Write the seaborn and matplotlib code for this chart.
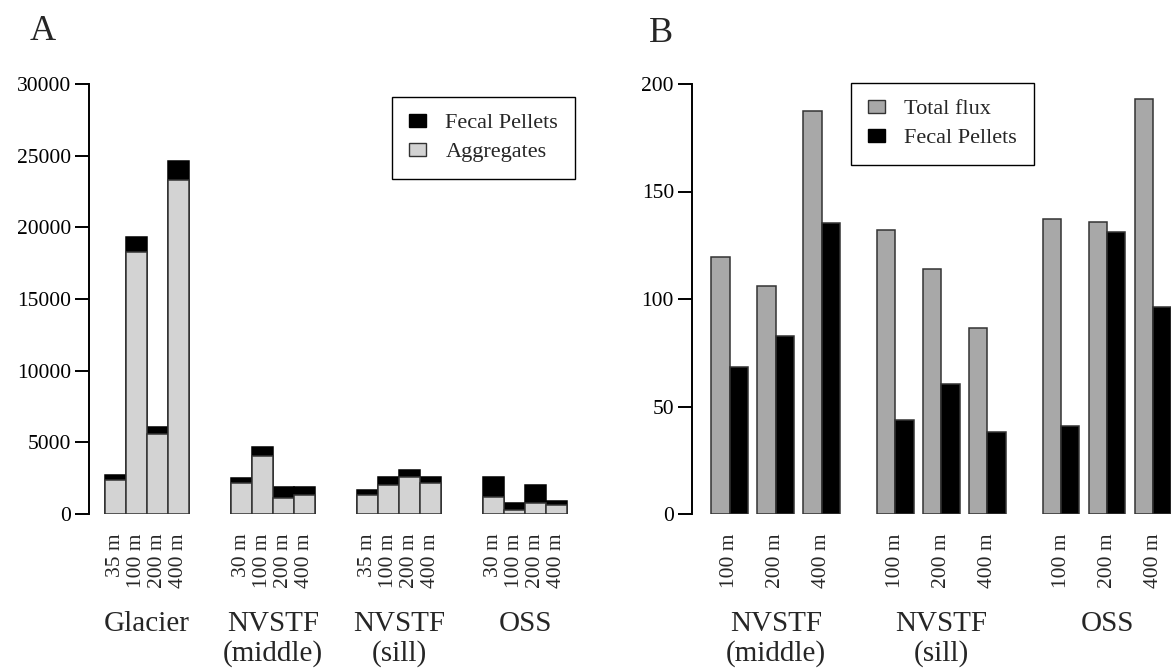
import numpy as np
import pandas as pd
import matplotlib
matplotlib.use("Agg")
import matplotlib.pyplot as plt
from matplotlib.patches import Patch
from matplotlib.transforms import blended_transform_factory
import seaborn as sns

# ---- Panel A: particle flux by site and depth (stacked) ----
sites_a = ["Glacier", "NVSTF\n(middle)", "NVSTF\n(sill)", "OSS"]
depths_a = [
    ["35 m", "100 m", "200 m", "400 m"],
    ["30 m", "100 m", "200 m", "400 m"],
    ["35 m", "100 m", "200 m", "400 m"],
    ["30 m", "100 m", "200 m", "400 m"],
]
aggregates = [2400, 18300, 5600, 23300,
              2150, 4050, 1100, 1300,
              1350, 2050, 2600, 2150,
              1200, 300, 800, 650]
fecal_pellets_a = [350, 1000, 500, 1300,
                   350, 650, 800, 600,
                   350, 550, 500, 450,
                   1400, 500, 1200, 250]

# ---- Panel B: total flux vs fecal pellet flux ----
sites_b = ["NVSTF\n(middle)", "NVSTF\n(sill)", "OSS"]
depths_b = ["100 m", "200 m", "400 m"]
total_flux = [119.5, 106, 187.5,
              132, 114, 86.5,
              137, 136, 193]
fecal_pellets_b = [68.5, 83, 135.5,
                   43.5, 60.5, 38,
                   41, 131, 96.5]

C_AGG = "#d3d3d3"
C_TOTAL = "#a8a8a8"
C_FP = "#000000"
C_EDGE = "#333333"

sns.set_theme(style="ticks")
plt.rcParams["font.family"] = ["Liberation Serif", "DejaVu Serif"]
plt.rcParams["axes.linewidth"] = 1.4
plt.rcParams["axes.edgecolor"] = "black"

W, H = 1171, 672
fig = plt.figure(figsize=(W / 100, H / 100), dpi=100)

def px_rect(left, right, top, bottom):
    return [left / W, 1 - bottom / H, (right - left) / W, (bottom - top) / H]

legend_kw = dict(loc="upper left", bbox_transform=fig.transFigure, fontsize=16,
                 frameon=True, fancybox=False, edgecolor="black", framealpha=1,
                 handlelength=0.8, handleheight=0.55, handletextpad=0.85,
                 borderpad=0.75, labelspacing=0.42, borderaxespad=0)

# ---------------- Panel A ----------------
x_a = [g * 6 + i for g in range(len(sites_a)) for i in range(4)]
totals_a = [a + f for a, f in zip(aggregates, fecal_pellets_a)]
df_a = pd.DataFrame({"pos": x_a, "total": totals_a, "agg": aggregates})

xl_a = (-1.262, 22.0)
ax_a = fig.add_axes(px_rect(89, 89 + (xl_a[1] - xl_a[0]) * 21, 84, 514))
sns.barplot(data=df_a, x="pos", y="total", native_scale=True, width=1.0,
            color=C_FP, edgecolor="black", linewidth=1.1, saturation=1,
            errorbar=None, ax=ax_a)
sns.barplot(data=df_a, x="pos", y="agg", native_scale=True, width=1.0,
            color=C_AGG, edgecolor=C_EDGE, linewidth=1.1, saturation=1,
            errorbar=None, ax=ax_a)
ax_a.set_xlim(*xl_a)
ax_a.set_ylim(0, 30000)
ax_a.set_yticks(np.arange(0, 30001, 5000))
ax_a.set_xticks(x_a)
ax_a.set_xticklabels([d for grp in depths_a for d in grp], rotation=90)
ax_a.set_xlabel("")
ax_a.set_ylabel("")

tr_a = blended_transform_factory(ax_a.transData, ax_a.transAxes)
for g, name in enumerate(sites_a):
    ax_a.text(g * 6 + 1.5, -0.225, name, transform=tr_a, ha="center", va="top",
              fontsize=21, linespacing=1.17)

leg_a = ax_a.legend(handles=[Patch(facecolor=C_FP, edgecolor="black", label="Fecal Pellets"),
                             Patch(facecolor=C_AGG, edgecolor=C_EDGE, label="Aggregates")],
                    bbox_to_anchor=(392 / W, 1 - 97 / H), **legend_kw)
leg_a.get_frame().set_linewidth(1.0)

# ---------------- Panel B ----------------
x_b = [g * 3.6 + i for g in range(len(sites_b)) for i in range(3)]
df_b = pd.DataFrame({
    "pos": x_b * 2,
    "value": total_flux + fecal_pellets_b,
    "series": ["Total flux"] * len(x_b) + ["Fecal Pellets"] * len(x_b),
})
xl_b = (-0.82, 9.59)
ax_b = fig.add_axes(px_rect(692, 1171, 84, 514))
sns.barplot(data=df_b, x="pos", y="value", hue="series", native_scale=True,
            width=0.8, dodge=True, palette=[C_TOTAL, C_FP], saturation=1,
            edgecolor=C_EDGE, linewidth=1.1, errorbar=None, legend=False, ax=ax_b)
ax_b.set_xlim(*xl_b)
ax_b.set_ylim(0, 200)
ax_b.set_yticks([0, 50, 100, 150, 200])
ax_b.set_xticks(x_b)
ax_b.set_xticklabels(depths_b * len(sites_b), rotation=90)
ax_b.set_xlabel("")
ax_b.set_ylabel("")

tr_b = blended_transform_factory(ax_b.transData, ax_b.transAxes)
for g, name in enumerate(sites_b):
    ax_b.text(g * 3.6 + 1, -0.225, name, transform=tr_b, ha="center", va="top",
              fontsize=21, linespacing=1.17)

leg_b = ax_b.legend(handles=[Patch(facecolor=C_TOTAL, edgecolor=C_EDGE, label="Total flux"),
                             Patch(facecolor=C_FP, edgecolor="black", label="Fecal Pellets")],
                    bbox_to_anchor=(851 / W, 1 - 83 / H), **legend_kw)
leg_b.get_frame().set_linewidth(1.0)

for ax in (ax_a, ax_b):
    sns.despine(ax=ax, top=True, right=True, bottom=True)
    ax.tick_params(axis="y", length=10, width=1.4, pad=3, labelsize=15.5,
                   direction="out", colors="black")
    ax.tick_params(axis="x", length=0, pad=14, labelsize=15.5)
    ax.grid(False)

fig.text(43 / W, 1 - 31 / H, "A", fontsize=26, ha="center", va="center")
fig.text(661 / W, 1 - 33 / H, "B", fontsize=26, ha="center", va="center")

fig.savefig("out.png", dpi=100)
